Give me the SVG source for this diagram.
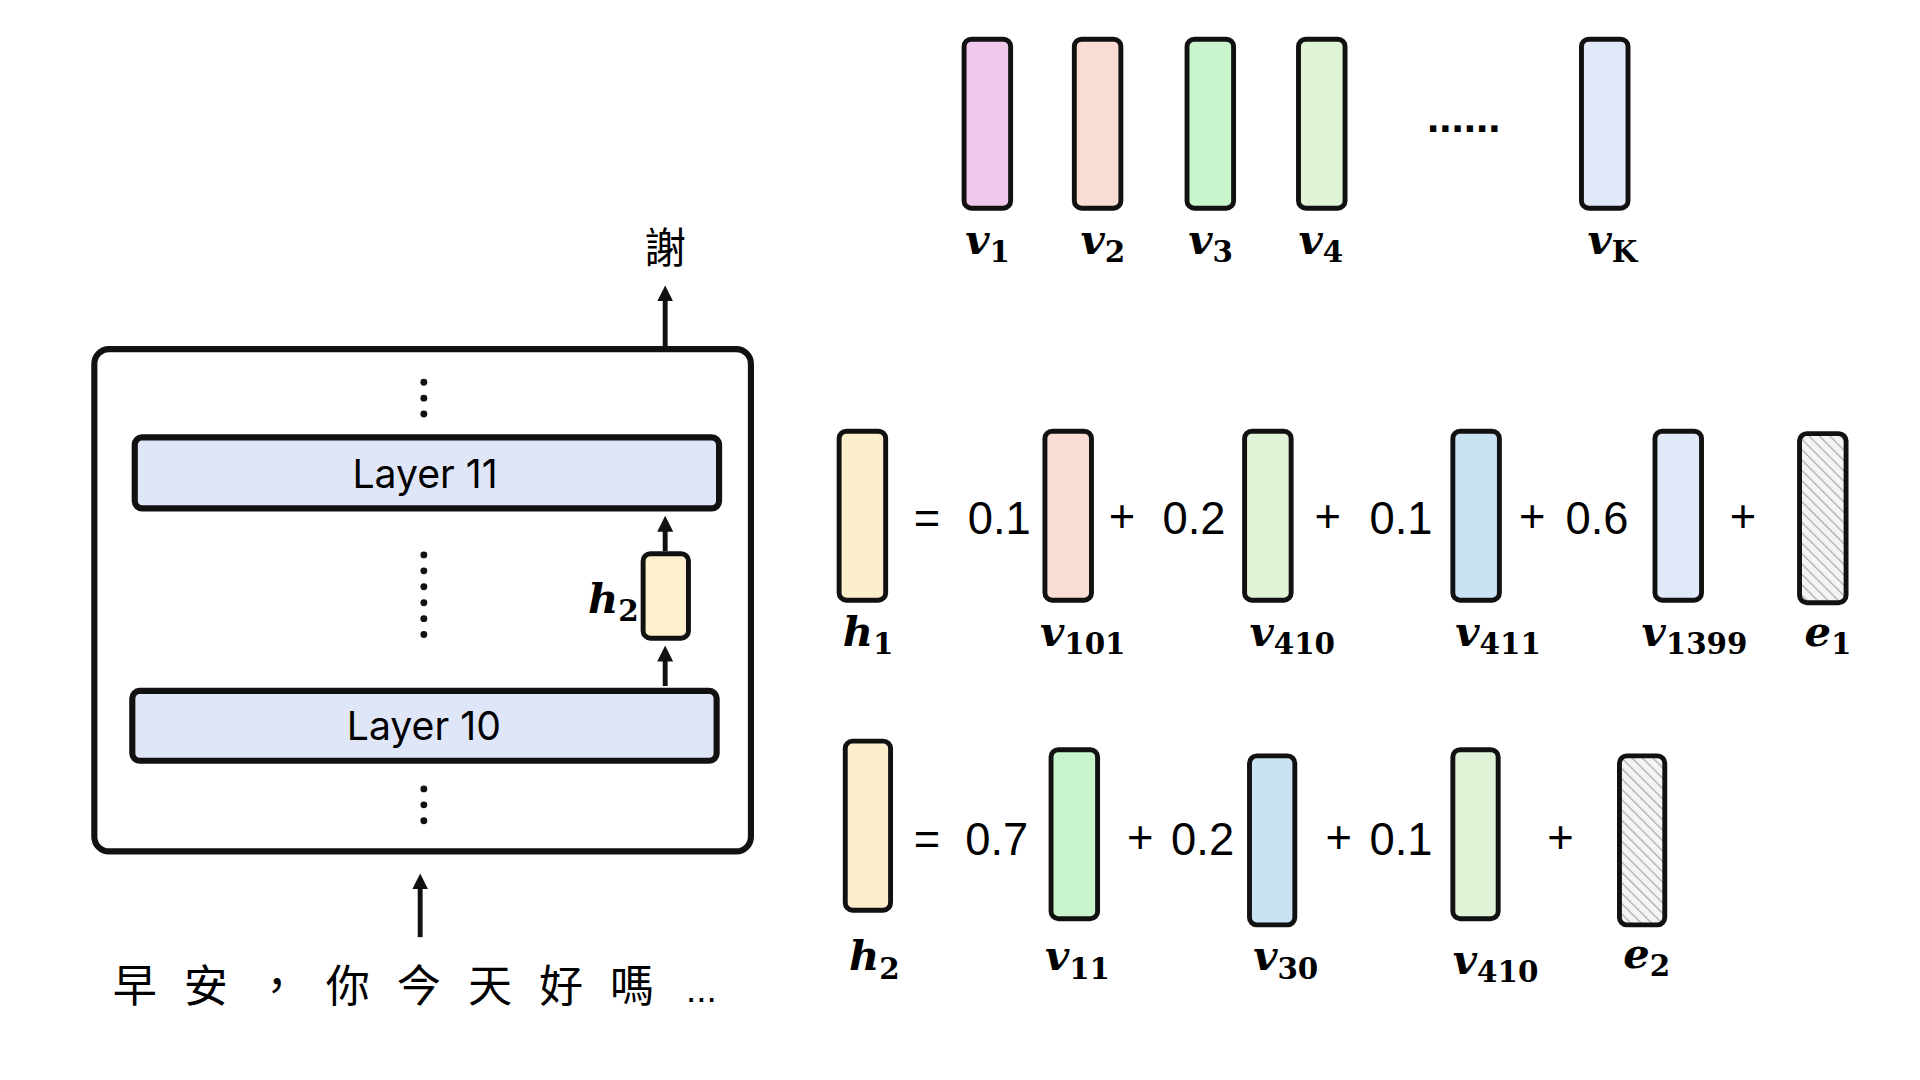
<svg xmlns="http://www.w3.org/2000/svg" width="1920" height="1080" viewBox="0 0 1920 1080">
<style>
.v{stroke:#111;stroke-width:4;rx:6}
.lb{font-family:"DejaVu Serif",serif;font-style:italic;font-weight:bold;font-size:34px}
.sb{font-family:"DejaVu Serif",serif;font-style:normal;font-weight:bold;font-size:24px}
.eq{font-family:"Liberation Sans",sans-serif;font-size:37px}
.dot{fill:#111}
</style>
<defs>
<pattern id="hatch" width="6" height="6" patternUnits="userSpaceOnUse" patternTransform="rotate(-45)">
<rect width="6" height="6" fill="#f4f4f4"/><line x1="0" y1="0" x2="0" y2="6" stroke="#aaa" stroke-width="2"/>
</pattern>
<marker id="ah" markerWidth="13" markerHeight="13" refX="6" refY="6.5" orient="auto" markerUnits="userSpaceOnUse" viewBox="0 0 13 13"><path d="M0,0 L13,6.5 L0,13 Z" fill="#111"/></marker>
</defs>
<rect width="1920" height="1080" fill="#fff"/>
<g transform="scale(1.225)">
<g id="top">
<rect class="v" x="787" y="32" width="38" height="138" fill="#f0c8ec"/>
<rect class="v" x="877" y="32" width="38" height="138" fill="#f9dcd4"/>
<rect class="v" x="969" y="32" width="38" height="138" fill="#c8f5cc"/>
<rect class="v" x="1060" y="32" width="38" height="138" fill="#dff3d6"/>
<text x="1195" y="108" text-anchor="middle" font-family="Liberation Sans,sans-serif" font-size="36" font-weight="bold">......</text>
<rect class="v" x="1291" y="32" width="38" height="138" fill="#e1e8f8"/>
<text class="lb" x="788" y="207">v<tspan class="sb" dy="7">1</tspan></text>
<text class="lb" x="882" y="207">v<tspan class="sb" dy="7">2</tspan></text>
<text class="lb" x="970" y="207">v<tspan class="sb" dy="7">3</tspan></text>
<text class="lb" x="1060" y="207">v<tspan class="sb" dy="7">4</tspan></text>
<text class="lb" x="1296" y="207">v<tspan class="sb" font-style="italic" dy="7">K</tspan></text>
</g>
<g id="model">
<rect x="77" y="285" width="536" height="410" rx="12" fill="#fff" stroke="#111" stroke-width="5"/>
<rect x="110" y="357" width="477" height="58" rx="6" fill="#dfe6f7" stroke="#111" stroke-width="5"/>
<text x="347" y="398" text-anchor="middle" font-family="Inter,Liberation Sans,sans-serif" font-size="32">Layer 11</text>
<rect x="108" y="564" width="477" height="57" rx="6" fill="#dfe6f7" stroke="#111" stroke-width="5"/>
<text x="346" y="604" text-anchor="middle" font-family="Inter,Liberation Sans,sans-serif" font-size="32">Layer 10</text>
<g class="dot">
<circle cx="346" cy="312" r="2.8"/><circle cx="346" cy="325" r="2.8"/><circle cx="346" cy="338" r="2.8"/>
<circle cx="346" cy="453" r="2.8"/><circle cx="346" cy="466" r="2.8"/><circle cx="346" cy="479" r="2.8"/><circle cx="346" cy="492" r="2.8"/><circle cx="346" cy="505" r="2.8"/><circle cx="346" cy="518" r="2.8"/>
<circle cx="346" cy="644" r="2.8"/><circle cx="346" cy="657" r="2.8"/><circle cx="346" cy="670" r="2.8"/>
</g>
<rect class="v" x="525" y="452" width="37" height="69" fill="#fdf0cc"/>
<text class="lb" x="480" y="500">h<tspan class="sb" dy="7">2</tspan></text>
<text x="543" y="215" text-anchor="middle" font-family="Noto Sans CJK TC,sans-serif" font-size="34">謝</text>
<text x="92" y="818" font-family="Noto Sans CJK TC,sans-serif" font-size="36" letter-spacing="22">早安，你今天好嗎</text>
<text x="560" y="818" font-family="Liberation Sans,sans-serif" font-size="30">...</text>
</g>
<g id="connectors" stroke="#111" stroke-width="4" fill="none">
<line x1="543" y1="560" x2="543" y2="534" marker-end="url(#ah)"/>
<line x1="543" y1="450" x2="543" y2="428" marker-end="url(#ah)"/>
<line x1="543" y1="283" x2="543" y2="240" marker-end="url(#ah)"/>
<line x1="343" y1="765" x2="343" y2="720" marker-end="url(#ah)"/>
</g>
<g id="row1">
<rect class="v" x="685" y="352" width="38" height="138" fill="#fdefcc"/>
<text class="eq" x="746" y="436">=</text><text class="eq" x="790" y="436">0.1</text>
<rect class="v" x="853" y="352" width="38" height="138" fill="#f9dcd4"/>
<text class="eq" x="905" y="434">+</text><text class="eq" x="949" y="436">0.2</text>
<rect class="v" x="1016" y="352" width="38" height="138" fill="#dff3d6"/>
<text class="eq" x="1073" y="434">+</text><text class="eq" x="1118" y="436">0.1</text>
<rect class="v" x="1186" y="352" width="38" height="138" fill="#c9e3f5"/>
<text class="eq" x="1240" y="434">+</text><text class="eq" x="1278" y="436">0.6</text>
<rect class="v" x="1351" y="352" width="38" height="138" fill="#e1e8f8"/>
<text class="eq" x="1412" y="434">+</text>
<rect class="v" x="1469" y="354" width="38" height="138" fill="url(#hatch)"/>
<text class="lb" x="688" y="527">h<tspan class="sb" dy="7">1</tspan></text>
<text class="lb" x="849" y="527">v<tspan class="sb" dy="7">101</tspan></text>
<text class="lb" x="1020" y="527">v<tspan class="sb" dy="7">410</tspan></text>
<text class="lb" x="1188" y="527">v<tspan class="sb" dy="7">411</tspan></text>
<text class="lb" x="1340" y="527">v<tspan class="sb" dy="7">1399</tspan></text>
<text class="lb" x="1473" y="527">e<tspan class="sb" dy="7">1</tspan></text>
</g>
<g id="row2">
<rect class="v" x="690" y="605" width="37" height="138" fill="#fdefcc"/>
<text class="eq" x="746" y="698">=</text><text class="eq" x="788" y="698">0.7</text>
<rect class="v" x="858" y="612" width="38" height="138" fill="#c8f5cc"/>
<text class="eq" x="920" y="696">+</text><text class="eq" x="956" y="698">0.2</text>
<rect class="v" x="1020" y="617" width="37" height="138" fill="#c9e3f5"/>
<text class="eq" x="1082" y="696">+</text><text class="eq" x="1118" y="698">0.1</text>
<rect class="v" x="1186" y="612" width="37" height="138" fill="#dff3d6"/>
<text class="eq" x="1263" y="696">+</text>
<rect class="v" x="1322" y="617" width="37" height="138" fill="url(#hatch)"/>
<text class="lb" x="693" y="792">h<tspan class="sb" dy="7">2</tspan></text>
<text class="lb" x="853" y="792">v<tspan class="sb" dy="7">11</tspan></text>
<text class="lb" x="1023" y="792">v<tspan class="sb" dy="7">30</tspan></text>
<text class="lb" x="1186" y="795">v<tspan class="sb" dy="7">410</tspan></text>
<text class="lb" x="1325" y="790">e<tspan class="sb" dy="7">2</tspan></text>
</g>
</g>
</svg>
